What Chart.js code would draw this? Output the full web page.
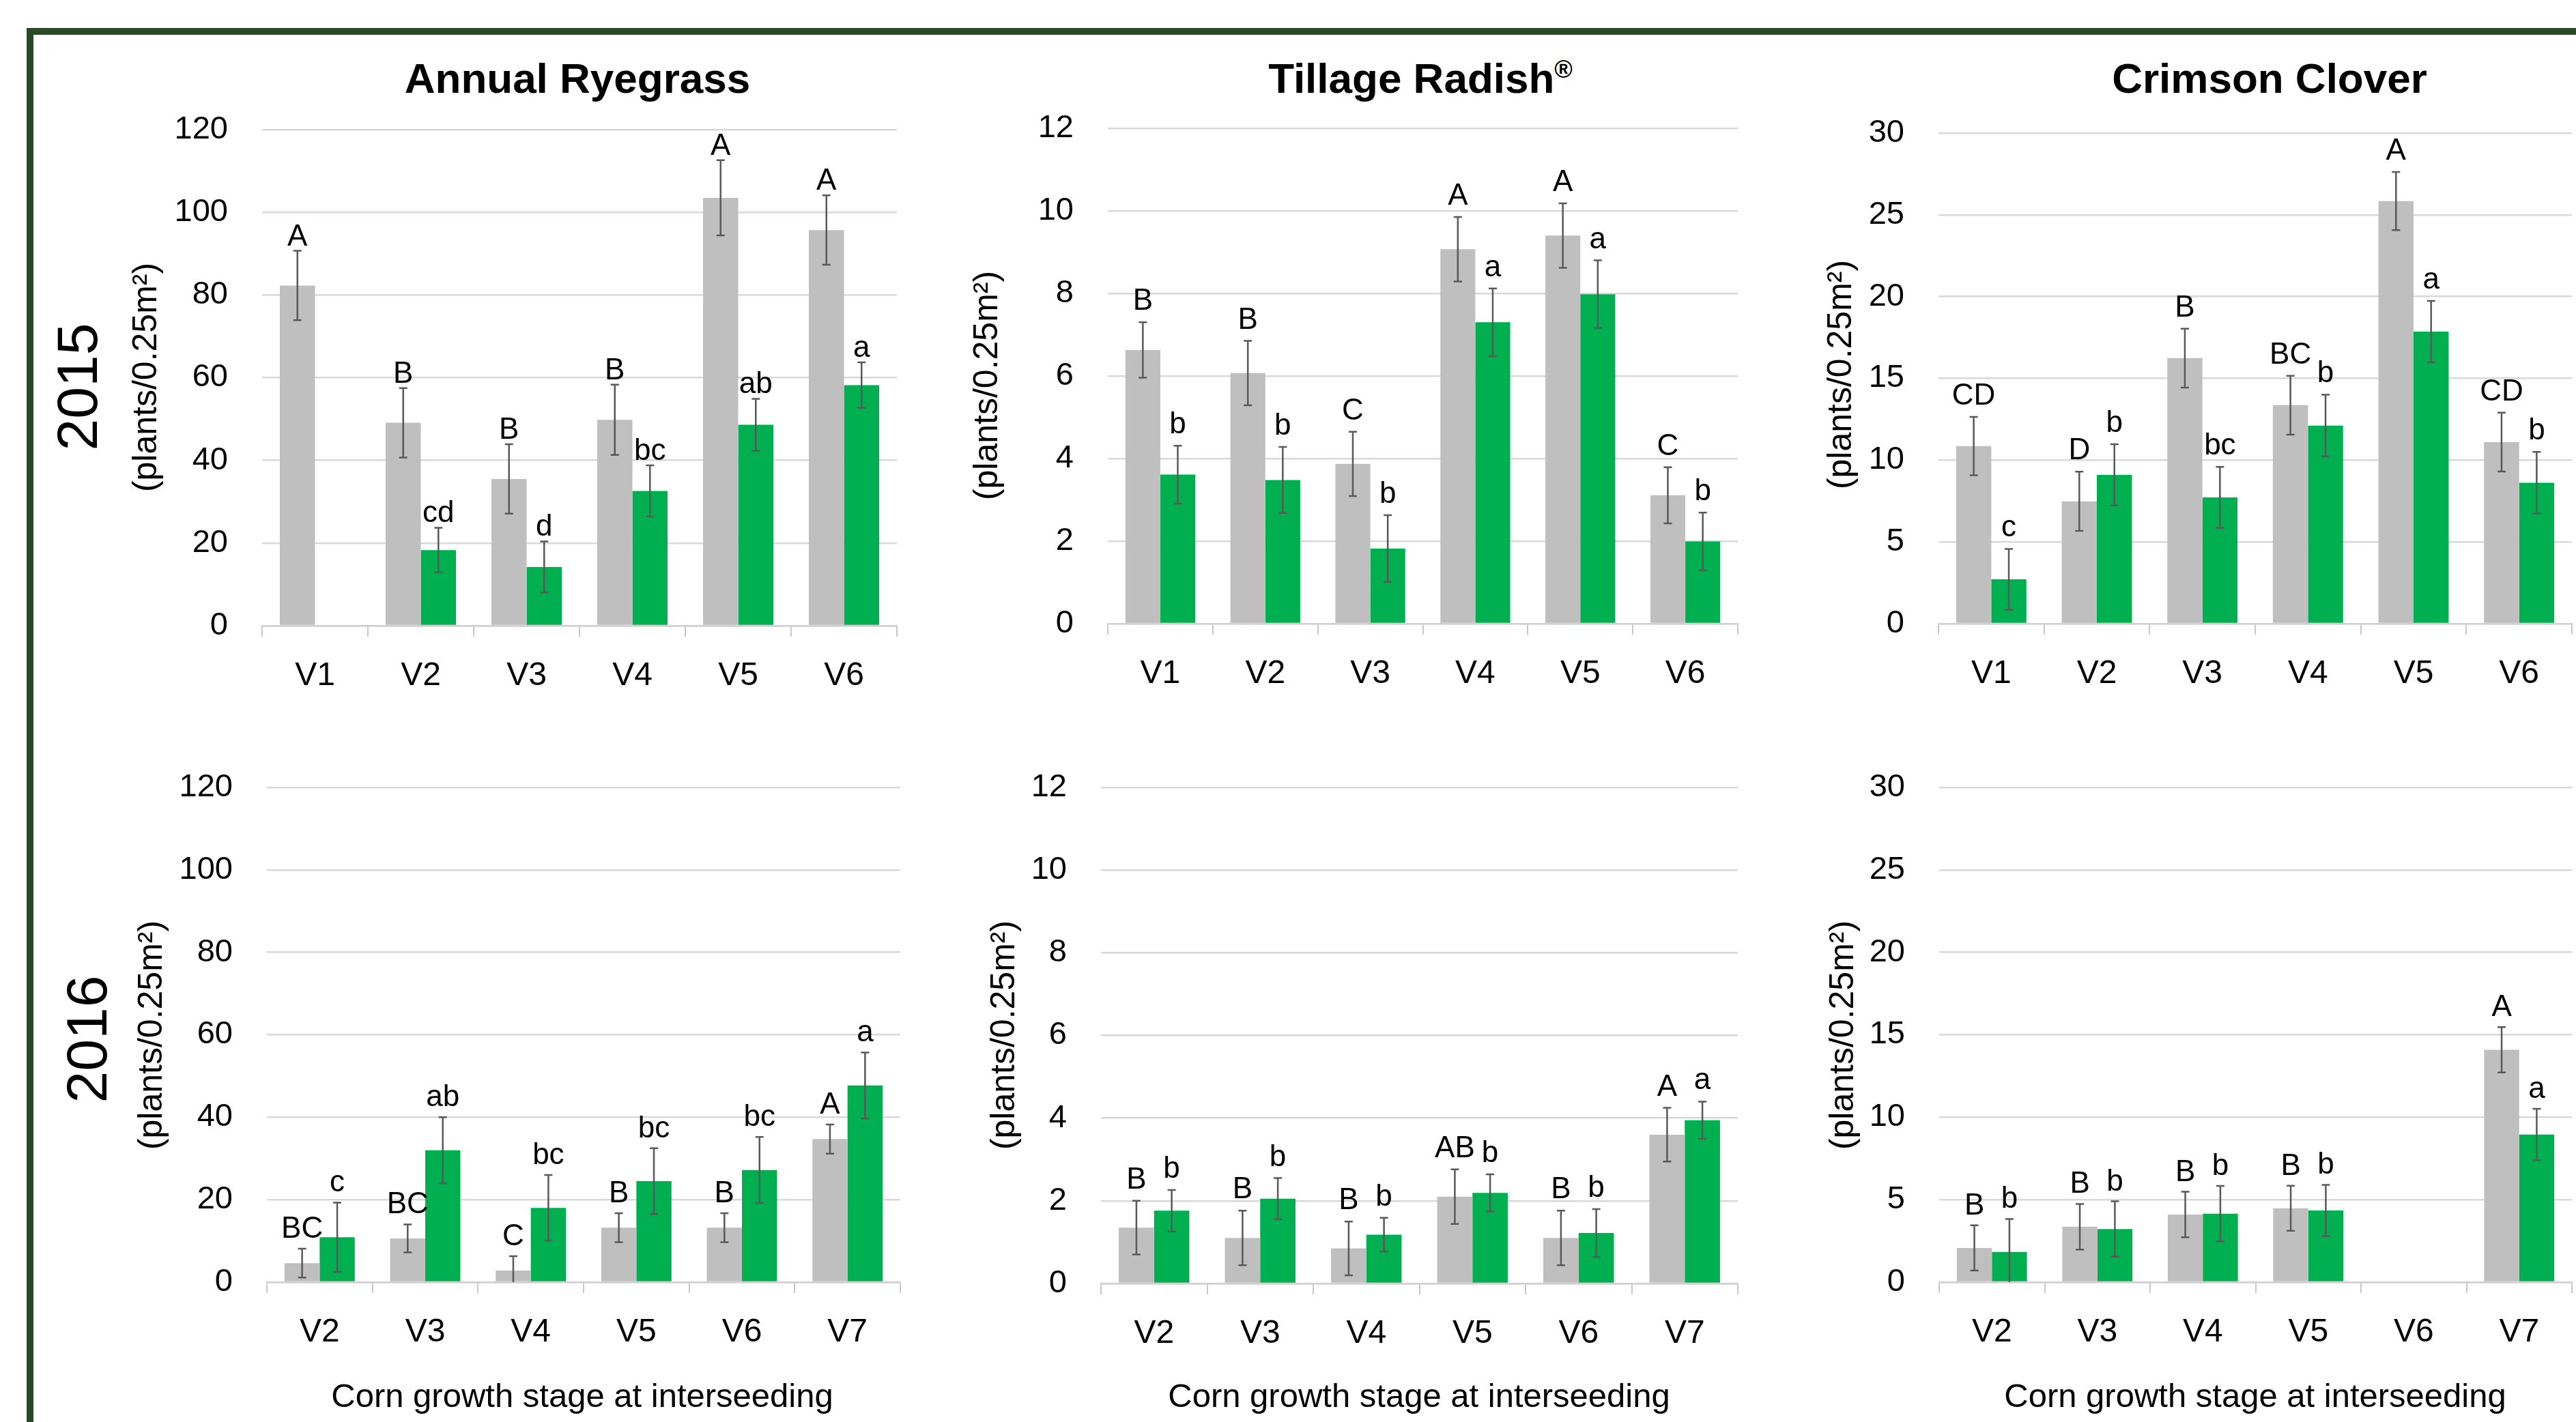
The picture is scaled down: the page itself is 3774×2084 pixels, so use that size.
<!DOCTYPE html>
<html>
<head>
<meta charset="utf-8">
<script src="https://cdn.jsdelivr.net/npm/chart.js@4.4.1/dist/chart.umd.min.js"></script>
<style>
body { margin:0; width:3774px; height:2084px; overflow:hidden; background:#fff; position:relative; font-family:'Liberation Sans', Arial, sans-serif; color:#000; }
.frame { position:absolute; left:39px; top:41px; width:4000px; height:3000px; border-left:10px solid #264b26; border-top:10px solid #264b26; }
canvas { position:absolute; }
.title { position:absolute; top:84px; font-weight:bold; font-size:62px; line-height:62px; transform:translateX(-50%); white-space:nowrap; }
.title sup { font-size:36px; line-height:36px; vertical-align:top; }
.year { position:absolute; font-size:84px; line-height:84px; transform:translate(-50%,-50%) rotate(-90deg); white-space:nowrap; }
.ytitle { position:absolute; font-size:50px; line-height:50px; transform:translate(-50%,-50%) rotate(-90deg); white-space:nowrap; }
.xtitle { position:absolute; top:2021px; font-size:49px; line-height:49px; transform:translateX(-50%); white-space:nowrap; }
</style>
</head>
<body>
<div class="frame"></div>

<div class="title" style="left:846px">Annual Ryegrass</div>
<div class="title" style="left:2081px">Tillage Radish<sup>®</sup></div>
<div class="title" style="left:3325px">Crimson Clover</div>

<div class="year" style="left:113px; top:567px">2015</div>
<div class="year" style="left:127px; top:1523px">2016</div>

<div class="ytitle" style="left:212px; top:553px">(plants/0.25m²)</div>
<div class="ytitle" style="left:1444px; top:565px">(plants/0.25m²)</div>
<div class="ytitle" style="left:2695px; top:549px">(plants/0.25m²)</div>
<div class="ytitle" style="left:220px; top:1517px">(plants/0.25m²)</div>
<div class="ytitle" style="left:1469px; top:1517px">(plants/0.25m²)</div>
<div class="ytitle" style="left:2698px; top:1517px">(plants/0.25m²)</div>

<div class="xtitle" style="left:853px">Corn growth stage at interseeding</div>
<div class="xtitle" style="left:2079px">Corn growth stage at interseeding</div>
<div class="xtitle" style="left:3304px">Corn growth stage at interseeding</div>

<script>
const FONT = "'Liberation Sans', Arial, sans-serif";

const stages2015 = ['V1', 'V2', 'V3', 'V4', 'V5', 'V6'];
const stages2016 = ['V2', 'V3', 'V4', 'V5', 'V6', 'V7'];

// Annual Ryegrass 2015
const rye15Grey = [82.3, 49.1, 35.5, 49.8, 103.5, 95.7];
const rye15GreyErr = [8.4, 8.4, 8.4, 8.5, 9.1, 8.4];
const rye15GreyLetters = ['A', 'B', 'B', 'B', 'A', 'A'];
const rye15Green = [0, 18.3, 14.2, 32.6, 48.6, 58.2];
const rye15GreenErr = [0, 5.4, 6.2, 6.2, 6.3, 5.5];
const rye15GreenLetters = ['', 'cd', 'd', 'bc', 'ab', 'a'];

// Tillage Radish 2015
const rad15Grey = [6.63, 6.07, 3.87, 9.07, 9.40, 3.11];
const rad15GreyErr = [0.67, 0.78, 0.78, 0.78, 0.78, 0.68];
const rad15GreyLetters = ['B', 'B', 'C', 'A', 'A', 'C'];
const rad15Green = [3.61, 3.48, 1.82, 7.30, 7.98, 1.99];
const rad15GreenErr = [0.70, 0.80, 0.81, 0.82, 0.82, 0.70];
const rad15GreenLetters = ['b', 'b', 'b', 'a', 'a', 'b'];

// Crimson Clover 2015
const clo15Grey = [10.86, 7.48, 16.24, 13.36, 25.84, 11.10];
const clo15GreyErr = [1.78, 1.81, 1.80, 1.80, 1.78, 1.80];
const clo15GreyLetters = ['CD', 'D', 'B', 'BC', 'A', 'CD'];
const clo15Green = [2.71, 9.10, 7.72, 12.11, 17.86, 8.62];
const clo15GreenErr = [1.86, 1.87, 1.87, 1.89, 1.88, 1.88];
const clo15GreenLetters = ['c', 'b', 'bc', 'b', 'a', 'b'];

// Annual Ryegrass 2016
const rye16Grey = [4.6, 10.6, 2.8, 13.2, 13.2, 34.7];
const rye16GreyErr = [3.5, 3.4, 3.5, 3.5, 3.5, 3.55];
const rye16GreyLetters = ['BC', 'BC', 'C', 'B', 'B', 'A'];
const rye16Green = [10.9, 32.0, 18.0, 24.5, 27.2, 47.7];
const rye16GreenErr = [8.4, 8.0, 8.0, 8.0, 8.0, 8.0];
const rye16GreenLetters = ['c', 'ab', 'bc', 'bc', 'bc', 'a'];

// Tillage Radish 2016
const rad16Grey = [1.35, 1.10, 0.85, 2.10, 1.10, 3.60];
const rad16GreyErr = [0.65, 0.66, 0.65, 0.66, 0.66, 0.65];
const rad16GreyLetters = ['B', 'B', 'B', 'AB', 'B', 'A'];
const rad16Green = [1.76, 2.05, 1.18, 2.19, 1.22, 3.95];
const rad16GreenErr = [0.50, 0.50, 0.41, 0.45, 0.58, 0.45];
const rad16GreenLetters = ['b', 'b', 'b', 'b', 'b', 'a'];

// Crimson Clover 2016
const clo16Grey = [2.07, 3.36, 4.10, 4.48, 0, 14.09];
const clo16GreyErr = [1.37, 1.38, 1.38, 1.37, 0, 1.38];
const clo16GreyLetters = ['B', 'B', 'B', 'B', '', 'A'];
const clo16Green = [1.83, 3.22, 4.15, 4.34, 0, 8.95];
const clo16GreenErr = [2.0, 1.68, 1.68, 1.56, 0, 1.56];
const clo16GreenLetters = ['b', 'b', 'b', 'b', '', 'a'];

// error bars + letters, placed with the chart's own scale
const errorBars = {
    id: 'errorBars',
    afterDatasetsDraw(chart, args, opts) {
        const ctx = chart.ctx;
        const yScale = chart.scales.y;
        ctx.save();
        chart.data.datasets.forEach((ds, i) => {
            chart.getDatasetMeta(i).data.forEach((bar, j) => {
                const v = ds.data[j], e = ds.err[j];
                let top = yScale.getPixelForValue(v);
                if (e > 0) {
                    top = yScale.getPixelForValue(v + e);
                    const bot = yScale.getPixelForValue(Math.max(0, v - e));
                    ctx.strokeStyle = '#595959';
                    ctx.lineWidth = 2.5;
                    ctx.beginPath();
                    ctx.moveTo(bar.x, top); ctx.lineTo(bar.x, bot);
                    ctx.moveTo(bar.x - 6, top); ctx.lineTo(bar.x + 6, top);
                    if (v - e > 0) { ctx.moveTo(bar.x - 6, bot); ctx.lineTo(bar.x + 6, bot); }
                    ctx.stroke();
                }
                if (ds.letters[j]) {
                    ctx.fillStyle = '#000';
                    ctx.font = '44px ' + FONT;
                    ctx.textAlign = 'center';
                    ctx.textBaseline = 'alphabetic';
                    ctx.fillText(ds.letters[j], bar.x, top - opts.gap);
                }
            });
        });
        ctx.restore();
    }
};

function makePanel(p) {
    const lpad = 300, rpad = 40, tpad = 80, bpad = 120;
    const w = p.right - p.left + lpad + rpad;
    const h = p.bottom - p.top + tpad + bpad;
    const cv = document.createElement('canvas');
    cv.width = w; cv.height = h;
    cv.style.left = (p.left - lpad) + 'px';
    cv.style.top = (p.top - tpad) + 'px';
    cv.style.width = w + 'px';
    cv.style.height = h + 'px';
    document.body.appendChild(cv);

    new Chart(cv, {
        type: 'bar',
        data: {
            labels: p.labels,
            datasets: [
                { data: p.grey, err: p.greyErr, letters: p.greyLetters, backgroundColor: '#bfbfbf', categoryPercentage: 0.665, barPercentage: 1 },
                { data: p.green, err: p.greenErr, letters: p.greenLetters, backgroundColor: '#00b050', categoryPercentage: 0.665, barPercentage: 1 }
            ]
        },
        options: {
            responsive: false,
            animation: false,
            devicePixelRatio: 1,
            layout: { padding: { top: tpad, right: rpad, left: 0, bottom: 0 } },
            plugins: { legend: { display: false }, tooltip: { enabled: false }, errorBars: { gap: p.gap } },
            scales: {
                x: {
                    grid: { offset: true, drawOnChartArea: false, drawTicks: true, tickLength: 16, color: '#c8c8c8', lineWidth: 2 },
                    border: { display: true, color: '#d0d0d0', width: 2.5 },
                    ticks: { font: { family: FONT, size: 48 }, color: '#000', padding: 29 },
                    afterFit: s => { s.height = bpad; }
                },
                y: {
                    min: 0, max: p.max,
                    ticks: { stepSize: p.step, font: { family: FONT, size: 47 }, color: '#000', padding: 50 },
                    grid: { color: '#d9d9d9', lineWidth: 2.5, drawTicks: false },
                    border: { display: false },
                    afterFit: s => { s.width = lpad; }
                }
            }
        },
        plugins: [errorBars]
    });
}

const panels = [
    { left: 384, right: 1314, top: 190, bottom: 917, max: 120, step: 20, gap: 8, labels: stages2015,
      grey: rye15Grey, greyErr: rye15GreyErr, greyLetters: rye15GreyLetters, green: rye15Green, greenErr: rye15GreenErr, greenLetters: rye15GreenLetters },
    { left: 1623, right: 2546, top: 188, bottom: 914, max: 12, step: 2, gap: 18, labels: stages2015,
      grey: rad15Grey, greyErr: rad15GreyErr, greyLetters: rad15GreyLetters, green: rad15Green, greenErr: rad15GreenErr, greenLetters: rad15GreenLetters },
    { left: 2840, right: 3768, top: 195, bottom: 914, max: 30, step: 5, gap: 18, labels: stages2015,
      grey: clo15Grey, greyErr: clo15GreyErr, greyLetters: clo15GreyLetters, green: clo15Green, greenErr: clo15GreenErr, greenLetters: clo15GreenLetters },
    { left: 391, right: 1319, top: 1154, bottom: 1879, max: 120, step: 20, gap: 16, labels: stages2016,
      grey: rye16Grey, greyErr: rye16GreyErr, greyLetters: rye16GreyLetters, green: rye16Green, greenErr: rye16GreenErr, greenLetters: rye16GreenLetters },
    { left: 1613, right: 2546, top: 1154, bottom: 1881, max: 12, step: 2, gap: 18, labels: stages2016,
      grey: rad16Grey, greyErr: rad16GreyErr, greyLetters: rad16GreyLetters, green: rad16Green, greenErr: rad16GreenErr, greenLetters: rad16GreenLetters },
    { left: 2841, right: 3768, top: 1154, bottom: 1879, max: 30, step: 5, gap: 16, labels: stages2016,
      grey: clo16Grey, greyErr: clo16GreyErr, greyLetters: clo16GreyLetters, green: clo16Green, greenErr: clo16GreenErr, greenLetters: clo16GreenLetters }
];

panels.forEach(makePanel);
</script>
</body>
</html>
